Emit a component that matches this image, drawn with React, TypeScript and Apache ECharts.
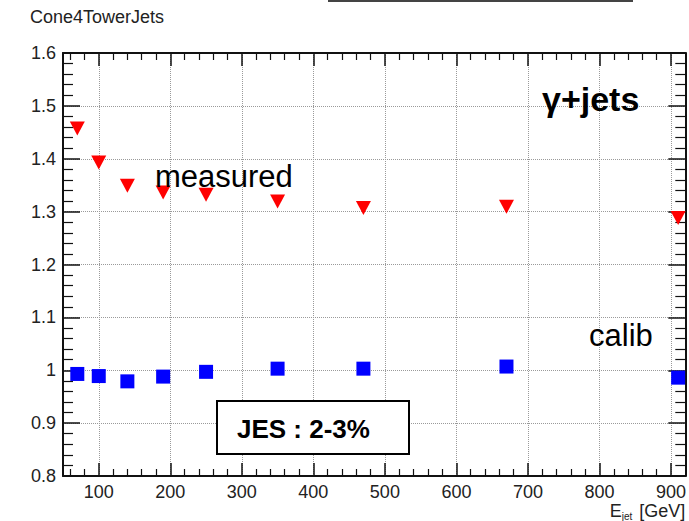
import React, { useEffect, useRef } from 'react';
import * as echarts from 'echarts';

const energies = [70, 100, 140, 190, 250, 350, 470, 670, 910];
const measuredVals = [1.457, 1.393, 1.349, 1.336, 1.332, 1.319, 1.307, 1.309, 1.288];
const calibVals = [0.993, 0.989, 0.979, 0.988, 0.997, 1.003, 1.003, 1.007, 0.986];

const titleText = 'Cone4TowerJets';
const channelText = 'γ+jets';
const measuredLabel = 'measured';
const calibLabel = 'calib';
const jesText = 'JES : 2-3%';

const FONT = '"Liberation Sans", Arial, sans-serif';

export default function App() {
  const ref = useRef<HTMLDivElement>(null);
  useEffect(() => {
    if (!ref.current) return;
    const chart = echarts.init(ref.current, null, { renderer: 'svg' });
    const gridLine = { show: true, lineStyle: { color: '#9a9a9a', type: 'dotted' as const, width: 1 } };
    const baseX = {
      type: 'value' as const,
      min: 50,
      max: 920,
      splitNumber: 9,
    };
    const baseY = {
      type: 'value' as const,
      min: 0.8,
      max: 1.6,
      interval: 0.1,
    };
    chart.setOption({
      animation: false,
      backgroundColor: '#ffffff',
      grid: { left: 63, right: 1, top: 53, bottom: 44, containLabel: false },
      xAxis: [
        {
          ...baseX,
          position: 'bottom',
          axisLine: { show: true, onZero: false, lineStyle: { color: '#111', width: 2 } },
          axisTick: { show: true, inside: true, length: 13, lineStyle: { color: '#111', width: 1.5 } },
          minorTick: { show: true, splitNumber: 5, length: 7, lineStyle: { color: '#111', width: 1.2 } },
          splitLine: gridLine,
          axisLabel: {
            show: true,
            margin: 7,
            fontSize: 18,
            color: '#222',
            fontFamily: FONT,
            showMinLabel: false,
            showMaxLabel: false,
            formatter: (v: number) => (Math.round(v) % 100 === 0 ? String(Math.round(v)) : ''),
          },
          name: 'E{sub|jet} [GeV]',
          nameLocation: 'end',
          nameGap: 0,
          nameTextStyle: {
            fontSize: 18,
            color: '#222',
            fontFamily: FONT,
            align: 'right',
            verticalAlign: 'top',
            padding: [24, 0, 0, 0],
            rich: { sub: { fontSize: 10, color: '#222', fontFamily: FONT, padding: [11, 2, 0, 0] } },
          },
        },
        {
          ...baseX,
          position: 'top',
          axisLine: { show: true, onZero: false, lineStyle: { color: '#111', width: 2 } },
          axisTick: { show: true, inside: true, length: 13, lineStyle: { color: '#111', width: 1.5 } },
          minorTick: { show: true, splitNumber: 5, length: 7, lineStyle: { color: '#111', width: 1.2 } },
          splitLine: { show: false },
          axisLabel: { show: false },
        },
      ],
      yAxis: [
        {
          ...baseY,
          position: 'left',
          axisLine: { show: true, onZero: false, lineStyle: { color: '#111', width: 2 } },
          axisTick: { show: true, inside: true, length: 17, lineStyle: { color: '#111', width: 1.5 } },
          minorTick: { show: true, splitNumber: 5, length: 10, lineStyle: { color: '#111', width: 1.2 } },
          splitLine: gridLine,
          axisLabel: { show: true, margin: 7, fontSize: 18, color: '#222', fontFamily: FONT },
        },
        {
          ...baseY,
          position: 'right',
          axisLine: { show: true, onZero: false, lineStyle: { color: '#111', width: 2 } },
          axisTick: { show: true, inside: true, length: 17, lineStyle: { color: '#111', width: 1.5 } },
          minorTick: { show: true, splitNumber: 5, length: 10, lineStyle: { color: '#111', width: 1.2 } },
          splitLine: { show: false },
          axisLabel: { show: false },
        },
      ],
      series: [
        {
          name: 'measured',
          type: 'scatter',
          xAxisIndex: 0,
          yAxisIndex: 0,
          symbol: 'triangle',
          symbolRotate: 180,
          symbolSize: [15, 14],
          itemStyle: { color: '#ff0000', opacity: 1 },
          data: energies.map((e, i) => [e, measuredVals[i]]),
          z: 5,
        },
        {
          name: 'calib',
          type: 'scatter',
          xAxisIndex: 0,
          yAxisIndex: 0,
          symbol: 'rect',
          symbolSize: 14,
          itemStyle: { color: '#0000ff', opacity: 1 },
          data: energies.map((e, i) => [e, calibVals[i]]),
          z: 5,
        },
      ],
      graphic: [
        {
          type: 'line',
          shape: { x1: 328, y1: 1, x2: 633, y2: 1 },
          style: { stroke: '#444', lineWidth: 2 },
        },
        {
          type: 'text',
          left: 30,
          top: 8,
          style: { text: titleText, fontSize: 18, fill: '#222', fontFamily: FONT },
        },
        {
          type: 'text',
          x: 542,
          y: 99,
          z: 10,
          style: {
            text: channelText,
            fontSize: 34,
            fontWeight: 'bold',
            fill: '#000',
            fontFamily: FONT,
            verticalAlign: 'middle',
            align: 'left',
          },
        },
        {
          type: 'text',
          x: 155,
          y: 176,
          z: 10,
          style: {
            text: measuredLabel,
            fontSize: 31,
            fill: '#000',
            fontFamily: FONT,
            verticalAlign: 'middle',
            align: 'left',
          },
        },
        {
          type: 'text',
          x: 589,
          y: 335,
          z: 10,
          style: {
            text: calibLabel,
            fontSize: 31,
            fill: '#000',
            fontFamily: FONT,
            verticalAlign: 'middle',
            align: 'left',
          },
        },
        {
          type: 'rect',
          z: 10,
          shape: { x: 217, y: 401, width: 192, height: 53 },
          style: { fill: '#ffffff', stroke: '#000', lineWidth: 2 },
        },
        {
          type: 'text',
          x: 237,
          y: 429,
          z: 11,
          style: {
            text: jesText,
            fontSize: 26,
            fontWeight: 'bold',
            fill: '#000',
            fontFamily: FONT,
            verticalAlign: 'middle',
            align: 'left',
          },
        },
      ],
    });
    return () => chart.dispose();
  }, []);
  return (
    <div
      ref={ref}
      style={{ position: 'fixed', left: 0, top: 0, width: 689, height: 521, background: '#fff' }}
    />
  );
}
